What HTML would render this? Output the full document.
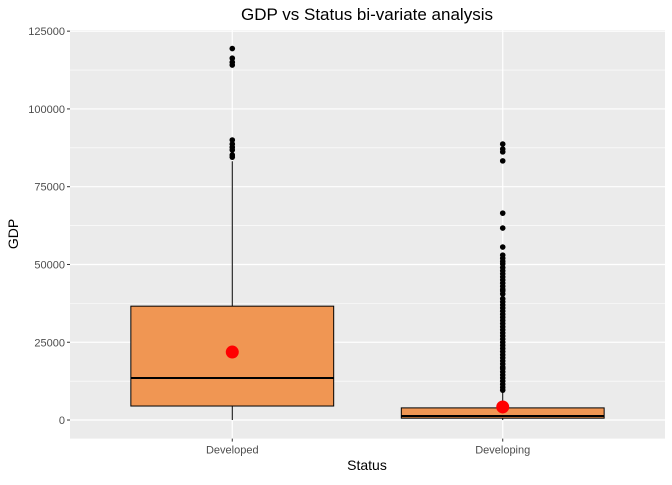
<!DOCTYPE html>
<html><head><meta charset="utf-8"><style>
body{margin:0;background:#fff;font-family:"Liberation Sans",sans-serif}
</style></head><body>
<svg id="chart" width="672" height="480" xmlns="http://www.w3.org/2000/svg" font-family="Liberation Sans, sans-serif"></svg>
<script>
const categories=["Developed","Developing"];
const q1=[4500,600];
const median=[13500,1300];
const q3=[36600,3900];
const whiskerLow=[0,0];
const whiskerHigh=[83200,9300];
const means=[21850,4200];
const outliersDeveloped=[119400,116300,115000,114100,90000,88700,87700,86800,85200,84500];
const outliersDeveloping=[88700,87100,86200,83300,66500,61700,55600,53000,52000,51000,50200,49000,48000,47000,46000,45000,44000,43000,42000,41500,40500,39000,38000,37000,36000,35000,34000,33000,32000,31000,30000,29000,28000,27000,26000,25000,24000,23000,22000,21000,20000,19000,18000,17000,16500,15500,14500,13500,12500,11500,10500,9600];
const yTicks=[0,25000,50000,75000,100000,125000];
const yTickLabels=["0","25000","50000","75000","100000","125000"];

const svg=document.getElementById('chart');
const NS="http://www.w3.org/2000/svg";
const P={l:70,r:665,t:30,b:438.6};
const yMin=-5970,yMax=125370;
function y(v){return P.b-(v-yMin)/(yMax-yMin)*(P.b-P.t);}
const unit=(P.r-P.l)/2.2;
function x(i){return P.l+(i+0.6)*unit;}
function el(tag,attrs,parent){const e=document.createElementNS(NS,tag);for(const k in attrs)e.setAttribute(k,attrs[k]);(parent||svg).appendChild(e);return e;}

const bg=el('rect',{x:P.l,y:P.t,width:P.r-P.l,height:P.b-P.t,fill:'#ebebeb'});


for(let i=0;i<yTicks.length-1;i++){
  const m=(yTicks[i]+yTicks[i+1])/2;
  const g=el('line',{x1:P.l,x2:P.r,y1:y(m),y2:y(m),stroke:'#fff','stroke-width':0.6});
  
  
}
yTicks.forEach((t,i)=>{
  const g=el('line',{x1:P.l,x2:P.r,y1:y(t),y2:y(t),stroke:'#fff','stroke-width':1.2});
  
  
  const tk=el('line',{x1:P.l-3,x2:P.l,y1:y(t),y2:y(t),stroke:'#333','stroke-width':1});
  
  
  const tx=el('text',{x:P.l-5,y:y(t)+4,'text-anchor':'end','font-size':11,fill:'#4d4d4d'});
  tx.textContent=yTickLabels[i];
  
  
});
categories.forEach((c,i)=>{
  const g=el('line',{x1:x(i),x2:x(i),y1:P.t,y2:P.b,stroke:'#fff','stroke-width':1.2});
  
  
  const tk=el('line',{x1:x(i),x2:x(i),y1:P.b,y2:P.b+3,stroke:'#333','stroke-width':1});
  
  
  const tx=el('text',{x:x(i),y:P.b+15,'text-anchor':'middle','font-size':11,fill:'#4d4d4d'});
  tx.textContent=c;
  
  
});
const bw=0.75*unit;
categories.forEach((c,i)=>{
  const w=el('line',{x1:x(i),x2:x(i),y1:y(whiskerLow[i]),y2:y(q1[i]),stroke:'#000','stroke-width':1});
  
  
  const w2=el('line',{x1:x(i),x2:x(i),y1:y(q3[i]),y2:y(whiskerHigh[i]),stroke:'#000','stroke-width':1});
  
  
  const b=el('rect',{x:x(i)-bw/2,y:y(q3[i]),width:bw,height:y(q1[i])-y(q3[i]),fill:'#f09653',stroke:'#000','stroke-width':1});
  
  
  const m=el('line',{x1:x(i)-bw/2,x2:x(i)+bw/2,y1:y(median[i]),y2:y(median[i]),stroke:'#000','stroke-width':2});
  
  
  const outs=i===0?outliersDeveloped:outliersDeveloping;
  outs.forEach(v=>{
    const p=el('circle',{cx:x(i),cy:y(v),r:2.8,fill:'#000'});
    
    
  });
  const mn=el('circle',{cx:x(i),cy:y(means[i]),r:6.5,fill:'#ff0000'});
  
  
});
const title=el('text',{x:367,y:20,'text-anchor':'middle','font-size':17,fill:'#000'});
title.textContent="GDP vs Status bi-variate analysis";


const xt=el('text',{x:367,y:470,'text-anchor':'middle','font-size':14,fill:'#000'});
xt.textContent="Status";


const yt=el('text',{x:18,y:234,'text-anchor':'middle','font-size':14,fill:'#000',transform:'rotate(-90 18 234)'});
yt.textContent="GDP";


</script>
</body></html>
